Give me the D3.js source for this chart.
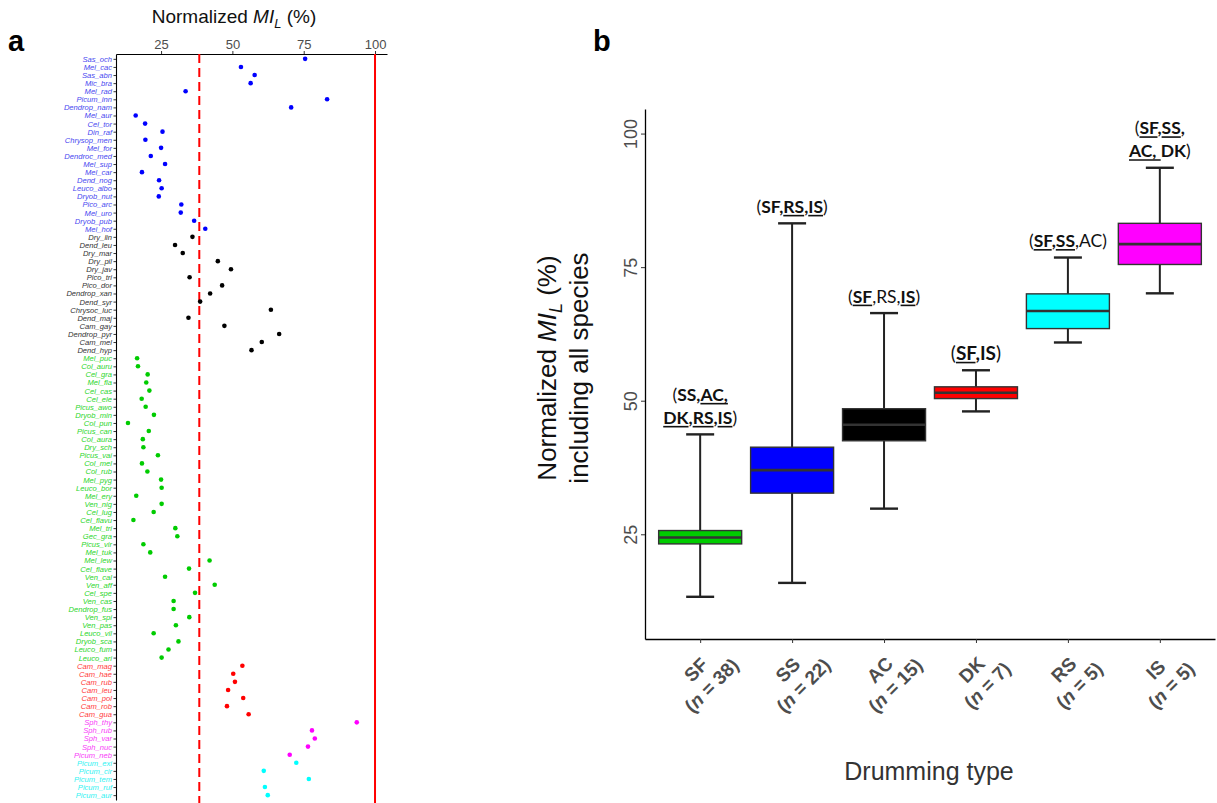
<!DOCTYPE html>
<html>
<head>
<meta charset="utf-8">
<script src="https://cdnjs.cloudflare.com/ajax/libs/d3/7.8.5/d3.min.js"></script>
<style>
  body { margin: 0; background: #fff; }
  svg { display: block; font-family: "Liberation Sans", Arial, sans-serif; }
</style>
</head>
<body>
<div id="chart"></div>
<script>
// ---- data: panel a (species, drumming type, normalized MI_L) ----
const species = [
  "Sas_och","Mel_cac","Sas_abn","Mic_bra","Mel_rad","Picum_inn","Dendrop_nam","Mel_aur","Cel_tor","Din_raf",
  "Chrysop_men","Mel_for","Dendroc_med","Mel_sup","Mel_car","Dend_nog","Leuco_albo","Dryob_nut","Pico_arc","Mel_uro",
  "Dryob_pub","Mel_hof",
  "Dry_lin","Dend_leu","Dry_mar","Dry_pil","Dry_jav","Pico_tri","Pico_dor","Dendrop_xan","Dend_syr","Chrysoc_luc",
  "Dend_maj","Cam_gay","Dendrop_pyr","Cam_mel","Dend_hyp",
  "Mel_puc","Col_auru","Cel_gra","Mel_fla","Cel_cas","Cel_ele","Picus_awo","Dryob_min","Col_pun","Picus_can",
  "Col_aura","Dry_sch","Picus_vai","Col_mel","Col_rub","Mel_pyg","Leuco_bor","Mel_ery","Ven_nig","Cel_lug",
  "Cel_flavu","Mel_tri","Gec_gra","Picus_vir","Mel_tuk","Mel_lew","Cel_flave","Ven_cal","Ven_aff","Cel_spe",
  "Ven_cas","Dendrop_fus","Ven_spi","Ven_pas","Leuco_vil","Dryob_sca","Leuco_fum","Leuco_ari",
  "Cam_mag","Cam_hae","Cam_rub","Cam_leu","Cam_pol","Cam_rob","Cam_gua",
  "Sph_thy","Sph_rub","Sph_var","Sph_nuc","Picum_neb",
  "Picum_exi","Picum_cir","Picum_tem","Picum_ruf","Picum_aur"
];
const speciesType = [
  "SS","SS","SS","SS","SS","SS","SS","SS","SS","SS","SS","SS","SS","SS","SS","SS","SS","SS","SS","SS","SS","SS",
  "AC","AC","AC","AC","AC","AC","AC","AC","AC","AC","AC","AC","AC","AC","AC",
  "SF","SF","SF","SF","SF","SF","SF","SF","SF","SF","SF","SF","SF","SF","SF","SF","SF","SF","SF","SF",
  "SF","SF","SF","SF","SF","SF","SF","SF","SF","SF","SF","SF","SF","SF","SF","SF","SF","SF",
  "DK","DK","DK","DK","DK","DK","DK",
  "IS","IS","IS","IS","IS",
  "RS","RS","RS","RS","RS"
];
const speciesMI = [
  75.5,53.0,57.8,56.4,33.6,83.2,70.6,16.1,19.4,25.5,19.5,25.0,21.4,26.4,18.3,24.3,25.2,24.2,32.1,31.9,36.6,40.5,
  36.0,29.9,32.6,44.9,49.5,35.0,46.4,42.2,38.7,63.5,34.6,47.2,66.4,60.3,56.7,
  16.6,16.9,20.3,19.8,20.9,18.2,19.6,22.5,13.4,20.7,18.6,18.8,23.9,18.3,20.2,25.0,25.2,16.3,25.2,22.4,
  15.3,30.0,30.7,18.8,21.2,42.0,34.8,26.4,43.8,36.9,29.4,29.4,34.9,30.2,22.4,31.1,27.6,25.2,
  53.5,50.3,50.9,48.5,53.8,48.1,55.7,
  93.6,77.9,78.9,76.5,70.1,
  72.4,61.0,76.8,61.4,62.4
];
const meanMI = 38.4;
const maxMI = 100;
const topTicks = [25, 50, 75, 100];

// ---- data: panel b (boxplot summary by drumming type) ----
const drumTypes = ["SF", "SS", "AC", "DK", "RS", "IS"];
const typeCounts = [38, 22, 15, 7, 5, 5];
const boxLow    = [13.3, 15.9, 29.8, 48.0, 60.9, 70.1];
const boxQ1     = [23.2, 32.7, 42.5, 50.4, 63.5, 75.5];
const boxMedian = [24.4, 37.0, 45.5, 51.5, 66.8, 79.3];
const boxQ3     = [25.7, 41.3, 48.5, 52.6, 70.0, 83.2];
const boxHigh   = [43.7, 83.2, 66.4, 55.7, 76.8, 93.6];
const leftTicks = [25, 50, 75, 100];
// significance labels: [text, bold, underline] pieces per line
const sigLabels = [
  [[["(",0,0],["SS,",1,0],["AC,",1,1]], [["DK",1,1],[",",1,0],["RS",1,1],[",",1,0],["IS",1,1],[")",0,0]]],
  [[["(",0,0],["SF,",1,0],["RS",1,1],[",",1,0],["IS",1,1],[")",0,0]]],
  [[["(",0,0],["SF",1,1],[",RS,",0,0],["IS",1,1],[")",0,0]]],
  [[["(",0,0],["SF",1,1],[",IS",1,0],[")",0,0]]],
  [[["(",0,0],["SF",1,1],[",",1,0],["SS",1,1],[",AC)",0,0]]],
  [[["(",0,0],["SF",1,1],[",",1,0],["SS",1,1],[",",1,0]], [["AC, ",1,1],["DK",1,0],[")",0,0]]]
];

// ---- styles ----
const typeColor = { SF: "#00cc00", SS: "#0000ff", AC: "#000000", DK: "#ff0000", RS: "#00ffff", IS: "#ff00ff" };
const labelColor = { SF: "#2bd62b", SS: "#4848f0", AC: "#333333", DK: "#ff3b3b", RS: "#30f2f2", IS: "#f83cf8" };

const W = 1217, H = 803;
const svg = d3.select("#chart").append("svg").attr("width", W).attr("height", H);

// ================= panel a =================
const xA = d3.scaleLinear().domain([9.2, 104.2]).range([116, 387]);
const yA = d3.scalePoint().domain(species).range([54, 800]).padding(0.6);

svg.append("text").attr("x", 8).attr("y", 51)
  .attr("font-size", 29).attr("font-weight", "bold").text("a");

const titleA = svg.append("text").attr("x", 234).attr("y", 23)
  .attr("text-anchor", "middle").attr("font-size", 19).attr("fill", "#111");
titleA.append("tspan").text("Normalized ");
titleA.append("tspan").attr("font-style", "italic").text("MI");
titleA.append("tspan").attr("font-style", "italic").attr("font-size", 13).attr("dy", 5).text("L");
titleA.append("tspan").attr("dy", -5).text(" (%)");

const topAxis = svg.append("g").attr("transform", "translate(0,54)")
  .call(d3.axisTop(xA).tickValues(topTicks).tickSize(3).tickSizeOuter(0).tickPadding(2));
topAxis.select(".domain").attr("stroke", "#000").attr("stroke-width", 1.1);
topAxis.selectAll(".tick line").attr("stroke", "#333");
topAxis.selectAll(".tick text").attr("font-size", 13).attr("fill", "#4d4d4d")
  .attr("font-family", "Liberation Sans, Arial, sans-serif");

const leftAxisA = svg.append("g").attr("transform", "translate(116,0)")
  .call(d3.axisLeft(yA).tickSize(2.5).tickSizeOuter(0).tickPadding(1.5));
leftAxisA.select(".domain").attr("stroke", "#000").attr("stroke-width", 1.1);
leftAxisA.selectAll(".tick line").attr("stroke", "#333");
leftAxisA.selectAll(".tick text")
  .attr("font-size", 7.6).attr("font-style", "italic")
  .attr("font-family", "Liberation Sans, Arial, sans-serif")
  .attr("fill", (d, i) => labelColor[speciesType[i]]);

svg.append("line")
  .attr("x1", xA(meanMI)).attr("x2", xA(meanMI)).attr("y1", 54).attr("y2", 803)
  .attr("stroke", "#ff0000").attr("stroke-width", 2).attr("stroke-dasharray", "9,5");
svg.append("line")
  .attr("x1", xA(maxMI)).attr("x2", xA(maxMI)).attr("y1", 54).attr("y2", 803)
  .attr("stroke", "#ff0000").attr("stroke-width", 2);

svg.append("g").selectAll("circle")
  .data(species)
  .enter().append("circle")
  .attr("cx", (d, i) => xA(speciesMI[i]))
  .attr("cy", d => yA(d))
  .attr("r", 2.3)
  .attr("fill", (d, i) => typeColor[speciesType[i]]);

// ================= panel b =================
const xB = d3.scalePoint().domain(drumTypes).range([645, 1215]).padding(0.6);
const yB = d3.scaleLinear().domain([5.4, 104.6]).range([639, 109]);
const boxW = 83, capW = 28;

svg.append("text").attr("x", 593).attr("y", 51)
  .attr("font-size", 29).attr("font-weight", "bold").text("b");

const leftAxisB = svg.append("g").attr("transform", "translate(645,0)")
  .call(d3.axisLeft(yB).tickValues(leftTicks).tickSize(4).tickSizeOuter(0));
leftAxisB.select(".domain").attr("stroke", "#000").attr("stroke-width", 1.3);
leftAxisB.selectAll(".tick line").attr("stroke", "#333");
leftAxisB.selectAll(".tick text")
  .attr("x", 0).attr("y", 0).attr("dy", 0)
  .attr("text-anchor", "middle")
  .attr("transform", "translate(-8,0) rotate(-90)")
  .attr("font-size", 18).attr("fill", "#4d4d4d")
  .attr("font-family", "Liberation Sans, Arial, sans-serif");

const bottomAxisB = svg.append("g").attr("transform", "translate(0,639)")
  .call(d3.axisBottom(xB).tickSize(4).tickSizeOuter(0));
bottomAxisB.select(".domain").attr("stroke", "#000").attr("stroke-width", 1.3);
bottomAxisB.selectAll(".tick line").attr("stroke", "#333");
bottomAxisB.selectAll(".tick text").remove();

// rotated category labels
drumTypes.forEach((t, i) => {
  const g = svg.append("g")
    .attr("transform", `translate(${xB(t) + 4},${678}) rotate(-45)`);
  const txt = g.append("text").attr("text-anchor", "middle")
    .attr("font-size", 19).attr("font-weight", "bold").attr("fill", "#4d4d4d");
  txt.append("tspan").attr("x", 0).attr("y", -5).text(t);
  const l2 = txt.append("tspan").attr("x", 0).attr("y", 17);
  l2.append("tspan").text("(");
  l2.append("tspan").attr("font-style", "italic").text("n");
  l2.append("tspan").text(" = " + typeCounts[i] + ")");
});

svg.append("text").attr("x", 929).attr("y", 780)
  .attr("text-anchor", "middle").attr("font-size", 25).attr("fill", "#333")
  .text("Drumming type");

// y axis title (two lines)
const ytB = svg.append("g").attr("transform", "translate(556,368) rotate(-90)");
const yt1 = ytB.append("text").attr("text-anchor", "middle").attr("y", 0)
  .attr("font-size", 26).attr("fill", "#111");
yt1.append("tspan").text("Normalized ");
yt1.append("tspan").attr("font-style", "italic").text("MI");
yt1.append("tspan").attr("font-style", "italic").attr("font-size", 18).attr("dy", 6).text("L");
yt1.append("tspan").attr("dy", -6).text(" (%)");
ytB.append("text").attr("text-anchor", "middle").attr("y", 32)
  .attr("font-size", 26).attr("fill", "#111").text("including all species");

// boxes
const boxes = svg.append("g").selectAll("g.box")
  .data(drumTypes).enter().append("g").attr("class", "box");

boxes.append("line")
  .attr("x1", d => xB(d)).attr("x2", d => xB(d))
  .attr("y1", (d, i) => yB(boxHigh[i])).attr("y2", (d, i) => yB(boxLow[i]))
  .attr("stroke", "#222").attr("stroke-width", 2);
boxes.append("line")
  .attr("x1", d => xB(d) - capW / 2).attr("x2", d => xB(d) + capW / 2)
  .attr("y1", (d, i) => yB(boxHigh[i])).attr("y2", (d, i) => yB(boxHigh[i]))
  .attr("stroke", "#222").attr("stroke-width", 2.4);
boxes.append("line")
  .attr("x1", d => xB(d) - capW / 2).attr("x2", d => xB(d) + capW / 2)
  .attr("y1", (d, i) => yB(boxLow[i])).attr("y2", (d, i) => yB(boxLow[i]))
  .attr("stroke", "#222").attr("stroke-width", 2.4);
boxes.append("rect")
  .attr("x", d => xB(d) - boxW / 2).attr("width", boxW)
  .attr("y", (d, i) => yB(boxQ3[i]))
  .attr("height", (d, i) => yB(boxQ1[i]) - yB(boxQ3[i]))
  .attr("fill", d => typeColor[d]).attr("stroke", "#333").attr("stroke-width", 1.4);
boxes.append("line")
  .attr("x1", d => xB(d) - boxW / 2).attr("x2", d => xB(d) + boxW / 2)
  .attr("y1", (d, i) => yB(boxMedian[i])).attr("y2", (d, i) => yB(boxMedian[i]))
  .attr("stroke", "#333").attr("stroke-width", 2.6);

// significance annotations
const sigFont = "Lato, 'Open Sans', sans-serif";
sigLabels.forEach((lines, i) => {
  const t = drumTypes[i];
  const fs = t === "DK" ? 19 : 17.5;
  const lastBase = yB(boxHigh[i]) - 10.5;
  lines.forEach((pieces, li) => {
    const base = lastBase - (lines.length - 1 - li) * 23;
    const txt = svg.append("text").attr("x", xB(t)).attr("y", base)
      .attr("text-anchor", "middle").attr("font-size", fs)
      .attr("font-family", sigFont).attr("fill", "#111");
    const spans = pieces.map(p => txt.append("tspan")
      .attr("font-weight", p[1] ? "bold" : "normal").text(p[0]));
    pieces.forEach((p, k) => {
      if (!p[2]) return;
      const node = spans[k].node();
      const n = node.getNumberOfChars();
      const x0 = node.getStartPositionOfChar(0).x;
      const x1 = node.getEndPositionOfChar(n - 1).x;
      svg.append("line").attr("x1", x0).attr("x2", x1)
        .attr("y1", base + 2.8).attr("y2", base + 2.8)
        .attr("stroke", "#111").attr("stroke-width", 1.6);
    });
  });
});
</script>
</body>
</html>
